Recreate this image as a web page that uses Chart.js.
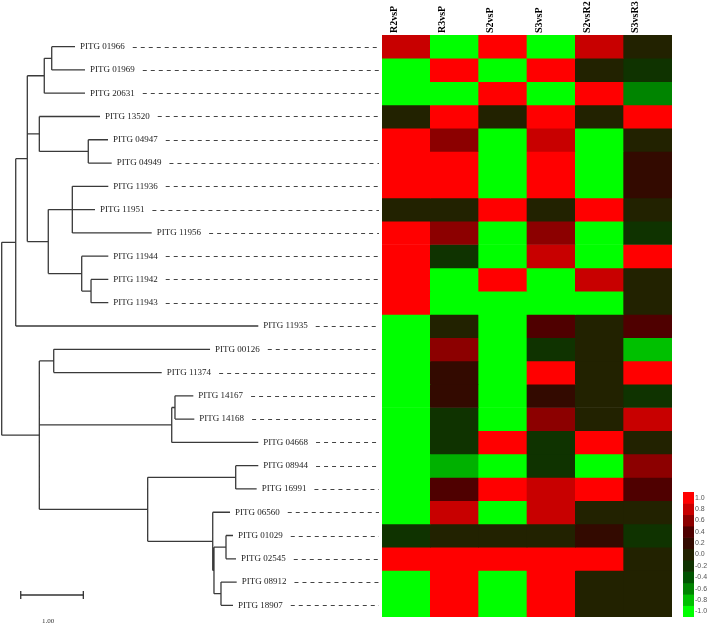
<!DOCTYPE html>
<html><head><meta charset="utf-8">
<script src="https://cdn.jsdelivr.net/npm/chart.js@4.4.0/dist/chart.umd.min.js"></script>
<style>
html,body{margin:0;padding:0;background:#fff;}
#wrap{position:relative;width:708px;height:625px;overflow:hidden;background:#fff;}
canvas{position:absolute;}
</style></head><body>
<div id="wrap">
<canvas id="tree" width="382" height="625" style="left:0;top:0;width:382px;height:625px"></canvas>
<canvas id="heat" width="336" height="625" style="left:372px;top:0;width:336px;height:625px"></canvas>
<canvas id="leg" width="25" height="145" style="left:683px;top:480px;width:25px;height:145px"></canvas>
</div>
<script>
// ---------- data ----------
const conditions = ['R2vsP','R3vsP','S2vsP','S3vsP','S2vsR2','S3vsR3'];
const genes = ['PITG 01966','PITG 01969','PITG 20631','PITG 13520','PITG 04947','PITG 04949',
  'PITG 11936','PITG 11951','PITG 11956','PITG 11944','PITG 11942','PITG 11943','PITG 11935',
  'PITG 00126','PITG 11374','PITG 14167','PITG 14168','PITG 04668','PITG 08944','PITG 16991',
  'PITG 06560','PITG 01029','PITG 02545','PITG 08912','PITG 18907'];
const expression = [
  [0.8,-1,1,-1,0.8,0],
  [-1,1,-1,1,0,-0.2],
  [-1,-1,1,-1,1,-0.6],
  [0,1,0,1,0,1],
  [1,0.6,-1,0.8,-1,0],
  [1,1,-1,1,-1,0.2],
  [1,1,-1,1,-1,0.2],
  [0,0,1,0,1,0],
  [1,0.6,-1,0.6,-1,-0.2],
  [1,-0.2,-1,0.8,-1,1],
  [1,-1,1,-1,0.8,0],
  [1,-1,-1,-1,-1,0],
  [-1,0,-1,0.4,0,0.4],
  [-1,0.6,-1,-0.2,0,-0.8],
  [-1,0.2,-1,1,0,1],
  [-1,0.2,-1,0.2,0,-0.2],
  [-1,-0.2,-1,0.6,0,0.8],
  [-1,-0.2,1,-0.2,1,0],
  [-1,-0.75,-1,-0.2,-1,0.6],
  [-1,0.4,1,0.8,1,0.4],
  [-1,0.8,-1,0.8,0,0],
  [-0.2,0,0,0,0.2,-0.2],
  [1,1,1,1,1,0],
  [-1,1,-1,1,0,0],
  [-1,1,-1,1,0,0]
];
const legendTicks = [1.0,0.8,0.6,0.4,0.2,0.0,-0.2,-0.4,-0.6,-0.8,-1.0];
const legendColors = ['#FF0000','#C80000','#8C0000','#4F0000','#330A00','#222200','#0F3300','#005400','#008400','#00C000','#00FF00'];
// dendrogram: node distance from root (scale-bar units), leaf = row index
const tree = {d:0, c:[
  {d:0.224, c:[
    {d:0.409, c:[
      {d:0.680, c:[
        {d:0.799, c:[{d:1.171, leaf:0},{d:1.331, leaf:1}]},
        {d:1.331, leaf:2}]},
      {d:0.601, c:[
        {d:1.570, leaf:3},
        {d:1.383, c:[{d:1.698, leaf:4},{d:1.757, leaf:5}]}]},
      {d:0.744, c:[
        {d:1.128, c:[{d:1.703, leaf:6},{d:1.490, leaf:7},{d:2.396, leaf:8}]},
        {d:1.278, c:[{d:1.703, leaf:9},
          {d:1.427, c:[{d:1.703, leaf:10},{d:1.703, leaf:11}]}]}]}]},
    {d:4.099, leaf:12}]},
  {d:0.601, c:[
    {d:0.831, c:[{d:3.328, leaf:13},{d:2.556, leaf:14}]},
    {d:2.716, c:[{d:2.768, c:[{d:3.061, leaf:15},{d:3.077, leaf:16}]},{d:4.099, leaf:17}]},
    {d:2.332, c:[
      {d:3.738, c:[{d:4.099, leaf:18},{d:4.073, leaf:19}]},
      {d:3.371, c:[{d:3.647, leaf:20},
        {d:3.391, c:[
          {d:3.583, c:[{d:3.695, leaf:21},{d:3.743, leaf:22}]},
          {d:3.503, c:[{d:3.754, leaf:23},{d:3.695, leaf:24}]}]}]}]}]}]};
const scaleBarLength = 1.00;

// ---------- helpers ----------
function hex(c){return [parseInt(c.slice(1,3),16),parseInt(c.slice(3,5),16),parseInt(c.slice(5,7),16)];}
function colorFor(v){
  for(let i=0;i<legendTicks.length-1;i++){
    const a=legendTicks[i], b=legendTicks[i+1];
    if(v<=a+1e-9 && v>=b-1e-9){
      const t=(a-v)/(a-b), ca=hex(legendColors[i]), cb=hex(legendColors[i+1]);
      const m=ca.map((x,k)=>Math.round(x+(cb[k]-x)*t));
      return 'rgb('+m.join(',')+')';
    }
  }
  return v>0?legendColors[0]:legendColors[legendColors.length-1];
}
function layoutTree(n){
  if(n.leaf!==undefined){n.y=n.leaf;return n.y;}
  const ys=n.c.map(layoutTree); n.y=(ys[0]+ys[ys.length-1])/2; return n.y;
}
layoutTree(tree);
const segs=[], leaves=[];
(function walk(n){
  if(n.c){
    segs.push({x:n.d,y:n.c[0].y},{x:n.d,y:n.c[n.c.length-1].y},{x:null,y:null});
    n.c.forEach(ch=>{segs.push({x:n.d,y:ch.y},{x:ch.d,y:ch.y},{x:null,y:null}); walk(ch);});
  } else leaves.push(n);
})(tree);

// ---------- geometry/style ----------
const PX_PER_UNIT = 62.6, ROOT_PX = 1.7, TREE_W = 382;
const TOP = 35, BOTTOM_PAD = 8;
const serif = '"Liberation Serif","Times New Roman",serif';

// ---------- tree chart ----------
const treePlugin = {
  id:'treeLabels',
  afterDatasetsDraw(chart){
    const ctx=chart.ctx, xs=chart.scales.x, ys=chart.scales.y;
    ctx.save();
    ctx.font='9px '+serif; ctx.fillStyle='#222'; ctx.textBaseline='middle'; ctx.textAlign='left';
    leaves.forEach(l=>{
      const x=xs.getPixelForValue(l.d)+5, y=ys.getPixelForValue(l.y);
      const name=genes[l.leaf];
      ctx.fillText(name,x,y);
      const w=ctx.measureText(name).width;
      ctx.save();
      ctx.strokeStyle='#444'; ctx.lineWidth=1; ctx.setLineDash([4,4]);
      ctx.beginPath(); ctx.moveTo(x+w+8,Math.round(y)+0.5); ctx.lineTo(379,Math.round(y)+0.5); ctx.stroke();
      ctx.restore();
    });
    // scale bar
    const x0=xs.getPixelForValue(0.304), x1=xs.getPixelForValue(0.304+scaleBarLength), yb=595;
    ctx.strokeStyle='#333'; ctx.lineWidth=1.3;
    ctx.beginPath();
    ctx.moveTo(x0,yb); ctx.lineTo(x1,yb);
    ctx.moveTo(x0,yb-4); ctx.lineTo(x0,yb+4);
    ctx.moveTo(x1,yb-4); ctx.lineTo(x1,yb+4);
    ctx.stroke();
    ctx.font='7px '+serif; ctx.fillStyle='#333'; ctx.textAlign='center';
    ctx.fillText(scaleBarLength.toFixed(2),(x0+x1)/2-4,621);
    ctx.restore();
  }
};
new Chart(document.getElementById('tree'),{
  type:'scatter',
  data:{datasets:[{data:segs,showLine:true,borderColor:'#3a3a3a',borderWidth:1.3,pointRadius:0,spanGaps:false,clip:false}]},
  options:{
    responsive:false,animation:false,devicePixelRatio:1,
    layout:{padding:{top:TOP,bottom:BOTTOM_PAD,left:0,right:0}},
    plugins:{legend:{display:false},tooltip:{enabled:false}},
    scales:{
      x:{type:'linear',display:false,min:-ROOT_PX/PX_PER_UNIT,max:(TREE_W-ROOT_PX)/PX_PER_UNIT},
      y:{type:'linear',display:false,reverse:true,min:-0.5,max:genes.length-0.5}
    }
  },
  plugins:[treePlugin]
});

// ---------- heatmap ----------
new Chart(document.getElementById('heat'),{
  type:'bar',
  data:{
    labels:conditions,
    datasets:genes.map((g,i)=>({label:g,data:conditions.map(()=>1),
      backgroundColor:expression[i].map(colorFor),borderWidth:0,barPercentage:1,categoryPercentage:1}))
  },
  options:{
    responsive:false,animation:false,devicePixelRatio:1,
    layout:{padding:{top:0,bottom:BOTTOM_PAD,left:10,right:36}},
    plugins:{legend:{display:false},tooltip:{enabled:false}},
    scales:{
      x:{type:'category',position:'top',stacked:true,offset:true,
        grid:{display:false,drawTicks:false},border:{display:false},
        ticks:{minRotation:90,maxRotation:90,autoSkip:false,padding:2,color:'#000',
          font:{family:serif,size:10,weight:'bold'}},
        afterFit:s=>{s.height=TOP;}},
      y:{type:'linear',stacked:true,display:false,reverse:true,min:0,max:genes.length}
    }
  }
});

// ---------- colour legend ----------
new Chart(document.getElementById('leg'),{
  type:'bar',
  data:{labels:[''],datasets:legendTicks.map(v=>({data:[[v-0.1,v+0.1]],backgroundColor:colorFor(v),
    borderWidth:0,grouped:false,barPercentage:1,categoryPercentage:1}))},
  options:{
    responsive:false,animation:false,devicePixelRatio:1,
    layout:{padding:{top:12,bottom:8,left:0,right:0}},
    plugins:{legend:{display:false},tooltip:{enabled:false}},
    scales:{
      x:{display:false},
      y:{type:'linear',position:'right',min:-1.1,max:1.1,
        grid:{display:false,drawTicks:false},border:{display:false},
        afterBuildTicks:s=>{s.ticks=legendTicks.map(v=>({value:v}));},
        afterFit:s=>{s.width=14;},
        ticks:{padding:1,color:'#555',font:{family:'"Liberation Sans",Arial,sans-serif',size:7},
          callback:v=>Number(v).toFixed(1)}}
    }
  }
});
</script>
</body></html>
